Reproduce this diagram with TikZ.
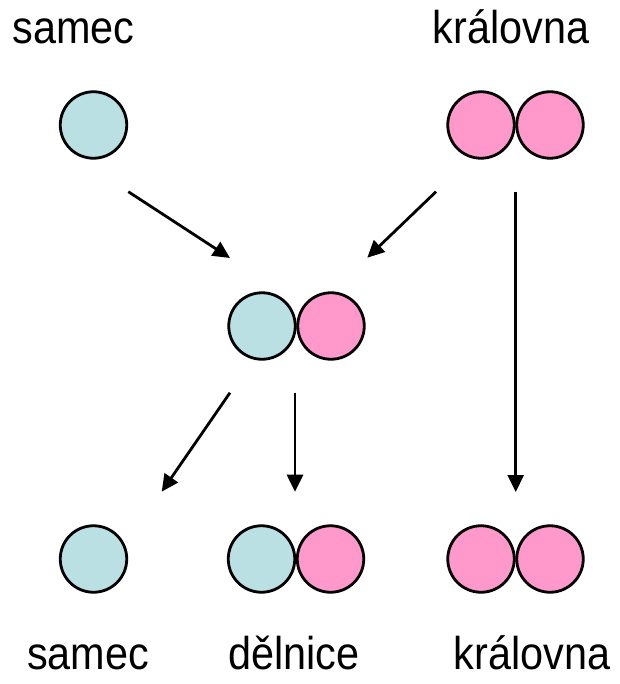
\documentclass[tikz,border=0pt]{standalone}
\usepackage{fontspec}
\setmainfont{Liberation Sans}
\usetikzlibrary{arrows.meta}
\definecolor{cblue}{HTML}{BBE0E3}
\definecolor{cpink}{HTML}{FF99CC}
\newcommand{\lbltext}[1]{\scalebox{0.9}[1]{#1}}
\tikzset{
  ball/.style={circle, draw=black, line width=2.8pt, minimum size=66.5pt, inner sep=0pt},
  bluball/.style={ball, fill=cblue},
  pinkball/.style={ball, fill=cpink},
  lbl/.style={anchor=base, inner sep=0pt, font=\fontsize{46}{54}\selectfont},
  arr/.style={line width=2.8pt, -{Triangle[length=17pt,width=16pt]}}
}
\begin{document}
\begin{tikzpicture}[x=1pt,y=-1pt]
\useasboundingbox (0,0) rectangle (619,684);
% labels
\node[lbl] (tsamec) at (73.4,43.5) {\lbltext{samec}};
\node[lbl] (tkral) at (511,43.5) {\lbltext{královna}};
\node[lbl] (bsamec) at (88,669) {\lbltext{samec}};
\node[lbl] (bdel) at (294,669) {\lbltext{dělnice}};
\node[lbl] (bkral) at (532,669) {\lbltext{královna}};
% circles
\node[bluball] (ts) at (93.5,125) {};
\node[pinkball] (tq1) at (481,125) {};
\node[pinkball] (tq2) at (550,125) {};
\node[bluball] (m1) at (262,326) {};
\node[pinkball] (m2) at (331,326) {};
\node[bluball] (bs) at (93.5,559) {};
\node[bluball] (bd1) at (261.5,559) {};
\node[pinkball] (bd2) at (330.5,559) {};
\node[pinkball] (bq1) at (481,559) {};
\node[pinkball] (bq2) at (550,559) {};
% arrow end points
\coordinate (a1s) at (128.3,191.7);
\coordinate (a1e) at (230,258);
\coordinate (a2s) at (436,191.7);
\coordinate (a2e) at (367.3,257.7);
\coordinate (a3s) at (515.7,191.7);
\coordinate (a3e) at (515.7,492);
\coordinate (a4s) at (230,392.7);
\coordinate (a4e) at (161.7,491.7);
\coordinate (a5s) at (295,392.7);
\coordinate (a5e) at (295,491.7);
\draw[arr] (a1s) -- (a1e);
\draw[arr] (a2s) -- (a2e);
\draw[arr] (a3s) -- (a3e);
\draw[arr] (a4s) -- (a4e);
\draw[arr] (a5s) -- (a5e);
\end{tikzpicture}
\end{document}
